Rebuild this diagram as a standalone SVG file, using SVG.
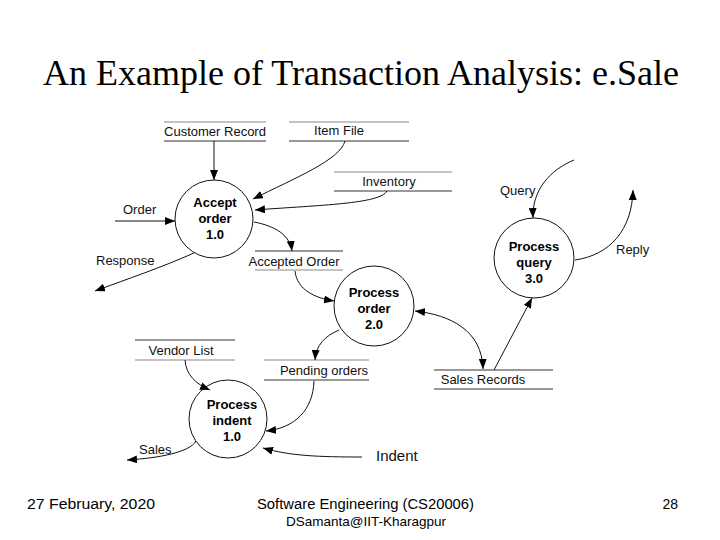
<svg xmlns="http://www.w3.org/2000/svg" width="720" height="540" viewBox="0 0 720 540">
<style>
.title{font-family:"Liberation Serif","Times New Roman",serif;font-size:36px;fill:#000}
.lbl{font-family:"Liberation Sans",Arial,sans-serif;font-size:13px;fill:#111}
.node{font-family:"Liberation Sans",Arial,sans-serif;font-size:13px;font-weight:bold;fill:#000;text-anchor:middle}
.foot{font-family:"Liberation Sans",Arial,sans-serif;font-size:14px;fill:#000}
.proc{fill:#fff;stroke:#111;stroke-width:1}
.store line{stroke:#333;stroke-width:1}
.store line.top{stroke:#888}
.conn path{fill:none;stroke:#111;stroke-width:1}
</style>
<defs>
<marker id="ah" viewBox="0 0 10 8" refX="10" refY="4" markerWidth="10" markerHeight="8" markerUnits="userSpaceOnUse" orient="auto-start-reverse">
<path d="M0,0 L10,4 L0,8 Z" fill="#000"/>
</marker>
</defs>
<rect width="720" height="540" fill="#fff"/>
<text class="title" x="361" y="85" text-anchor="middle">An Example of Transaction Analysis: e.Sale</text>

<g id="store-customer-record" class="store">
<line class="top" x1="164" y1="122" x2="266" y2="122"/>
<line x1="164" y1="141" x2="266" y2="141"/>
<text class="lbl" x="215" y="136" text-anchor="middle">Customer Record</text>
</g>
<g id="store-item-file" class="store">
<line class="top" x1="289" y1="122" x2="409" y2="122"/>
<line x1="289" y1="141" x2="409" y2="141"/>
<text class="lbl" x="339" y="135" text-anchor="middle">Item File</text>
</g>
<g id="store-inventory" class="store">
<line class="top" x1="334" y1="172" x2="452" y2="172"/>
<line x1="334" y1="191" x2="452" y2="191"/>
<text class="lbl" x="389" y="186" text-anchor="middle">Inventory</text>
</g>
<g id="store-accepted-order" class="store">
<line x1="255" y1="251" x2="343" y2="251"/>
<line class="top" x1="255" y1="270" x2="343" y2="270"/>
<text class="lbl" x="294" y="266" text-anchor="middle">Accepted Order</text>
</g>
<g id="store-vendor-list" class="store">
<line x1="135" y1="340" x2="235" y2="340"/>
<line class="top" x1="135" y1="360" x2="235" y2="360"/>
<text class="lbl" x="181" y="355" text-anchor="middle">Vendor List</text>
</g>
<g id="store-pending-orders" class="store">
<line class="top" x1="264" y1="360" x2="369" y2="360"/>
<line x1="264" y1="380" x2="369" y2="380"/>
<text class="lbl" x="324" y="375" text-anchor="middle">Pending orders</text>
</g>
<g id="store-sales-records" class="store">
<line x1="434" y1="370" x2="553" y2="370"/>
<line x1="434" y1="389" x2="553" y2="389"/>
<text class="lbl" x="483" y="384" text-anchor="middle">Sales Records</text>
</g>

<g id="p-accept-order">
<circle class="proc" cx="214" cy="219" r="39"/>
<text class="node" x="215" y="207">Accept</text>
<text class="node" x="215" y="223">order</text>
<text class="node" x="215" y="239">1.0</text>
</g>
<g id="p-process-order">
<circle class="proc" cx="374" cy="306" r="40"/>
<text class="node" x="374" y="297">Process</text>
<text class="node" x="374" y="313">order</text>
<text class="node" x="374" y="329">2.0</text>
</g>
<g id="p-process-query">
<circle class="proc" cx="534" cy="258" r="40"/>
<text class="node" x="534" y="251">Process</text>
<text class="node" x="534" y="267">query</text>
<text class="node" x="534" y="283">3.0</text>
</g>
<g id="p-process-indent">
<circle class="proc" cx="228" cy="419" r="39"/>
<text class="node" x="232" y="409">Process</text>
<text class="node" x="232" y="425">indent</text>
<text class="node" x="232" y="441">1.0</text>
</g>

<g id="connectors" class="conn">
<path d="M214,141 L214,180" stroke-width="2" marker-end="url(#ah)"/>
<path d="M345,141 C340,160 295,178 253,199" marker-end="url(#ah)"/>
<path d="M387,191 C380,204 320,205 255,210" marker-end="url(#ah)"/>
<path d="M115,221 L175,221" marker-end="url(#ah)"/>
<path d="M194,253 C160,268 130,278 95,291" marker-end="url(#ah)"/>
<path d="M254,222 C275,226 290,235 292,251" marker-end="url(#ah)"/>
<path d="M295,271 C297,290 315,298 334,301" marker-end="url(#ah)"/>
<path d="M339,330 C325,336 316,345 315,360" marker-end="url(#ah)"/>
<path d="M314,381 C313,410 295,428 266,431" marker-end="url(#ah)"/>
<path d="M185,360 C186,375 196,384 210,390" marker-end="url(#ah)"/>
<path d="M196,441 C190,452 160,458 127,460" marker-end="url(#ah)"/>
<path d="M362,457 C320,457 290,456 263,448" marker-end="url(#ah)"/>
<path d="M415,311 C450,315 482,330 483,369" marker-start="url(#ah)" marker-end="url(#ah)"/>
<path d="M494,370 L532,298" marker-end="url(#ah)"/>
<path d="M574,160 C550,170 532,190 533,218" marker-end="url(#ah)"/>
<path d="M575,260 C610,255 632,230 633,190" marker-end="url(#ah)"/>
</g>

<g id="flow-labels">
<text class="lbl" x="123" y="214">Order</text>
<text class="lbl" x="96" y="265">Response</text>
<text class="lbl" x="500" y="195">Query</text>
<text class="lbl" x="616" y="254">Reply</text>
<text class="lbl" x="139" y="454">Sales</text>
<text class="lbl" x="376" y="461" style="font-size:15px">Indent</text>
</g>

<g id="footer">
<text class="foot" x="27" y="509" textLength="128" lengthAdjust="spacingAndGlyphs">27 February, 2020</text>
<text class="foot" x="257" y="509" textLength="217" lengthAdjust="spacingAndGlyphs">Software Engineering (CS20006)</text>
<text class="foot" x="366" y="526" text-anchor="middle" style="font-size:13.5px">DSamanta@IIT-Kharagpur</text>
<text class="foot" x="678" y="509" text-anchor="end">28</text>
</g>
</svg>
